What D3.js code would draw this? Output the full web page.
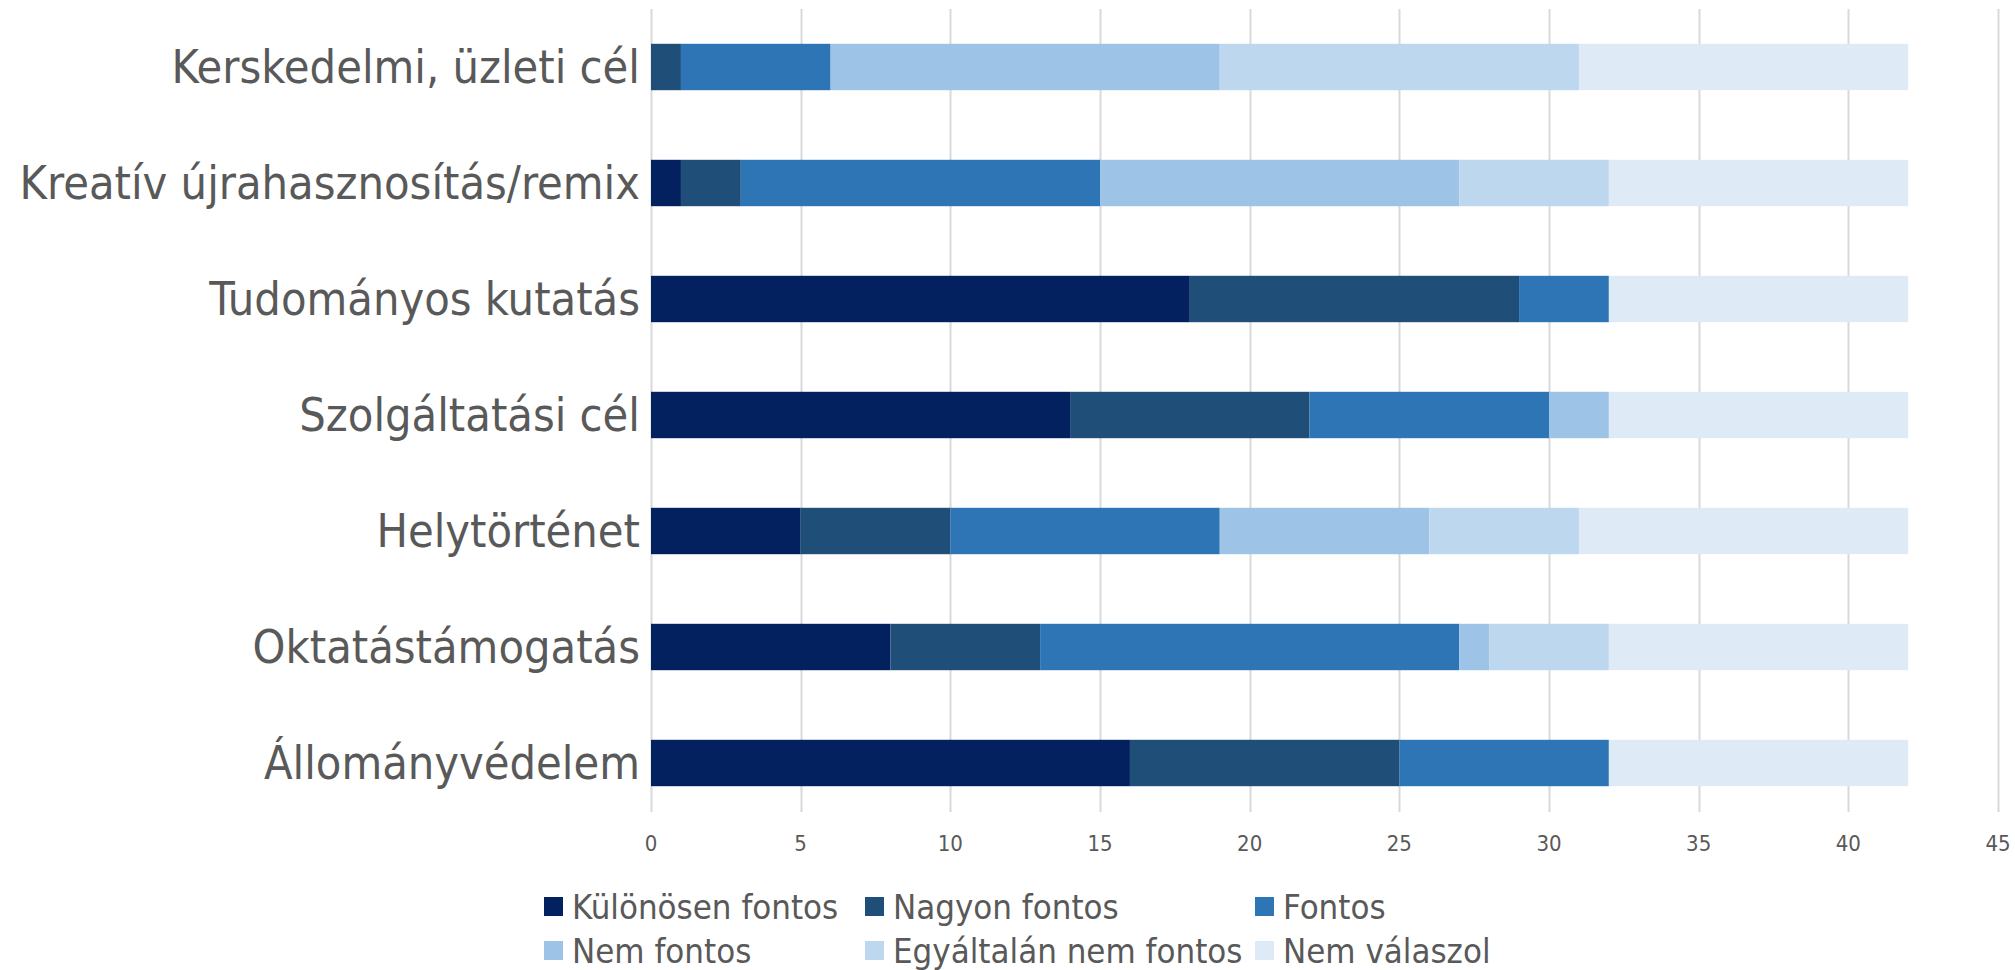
<!DOCTYPE html>
<html>
<head>
<meta charset="utf-8">
<script src="https://cdn.jsdelivr.net/npm/d3@7"></script>
<style>
  body { margin: 0; background: #fff; }
  svg text { font-family: "DejaVu Sans Condensed", "DejaVu Sans", sans-serif; font-stretch: condensed; fill: #595959; }
</style>
</head>
<body>
<div id="chart"></div>
<script>
// categories, top to bottom
var categories = ["Kerskedelmi, üzleti cél", "Kreatív újrahasznosítás/remix", "Tudományos kutatás",
    "Szolgáltatási cél", "Helytörténet", "Oktatástámogatás", "Állományvédelem"];

var seriesNames = ["Különösen fontos", "Nagyon fontos", "Fontos", "Nem fontos", "Egyáltalán nem fontos", "Nem válaszol"];
var seriesColors = ["#03215f", "#1f4e79", "#2e75b6", "#9dc3e6", "#bdd7ee", "#deebf7"];

// values per series, same order as categories
var kulonosenFontos = [0, 1, 18, 14, 5, 8, 16];
var nagyonFontos    = [1, 2, 11, 8, 5, 5, 9];
var fontos          = [5, 12, 3, 8, 9, 14, 7];
var nemFontos       = [13, 12, 0, 2, 7, 1, 0];
var egyaltalanNem   = [12, 5, 0, 0, 5, 4, 0];
var nemValaszol     = [11, 10, 10, 10, 11, 10, 10];

var xTicks = [0, 5, 10, 15, 20, 25, 30, 35, 40, 45];

var width = 2015, height = 970;
var plotLeft = 651, plotRight = 1998, plotTop = 9, plotBottom = 812;

var values = [kulonosenFontos, nagyonFontos, fontos, nemFontos, egyaltalanNem, nemValaszol];
var rows = categories.map(function(c, i) {
    var r = { cat: c };
    seriesNames.forEach(function(s, j) { r[s] = values[j][i]; });
    return r;
});
var stacked = d3.stack().keys(seriesNames)(rows);

var x = d3.scaleLinear().domain([0, 45]).range([plotLeft, plotRight]);
var y = d3.scaleBand().domain(categories).range([plotTop, plotTop + 812]).paddingInner(0.6).paddingOuter(0.3);

var svg = d3.select("#chart").append("svg")
    .attr("width", width)
    .attr("height", height);

// gridlines
svg.append("g").selectAll("line")
    .data(xTicks)
    .enter().append("line")
    .attr("x1", function(d) { return Math.round(x(d)) + 0.5; })
    .attr("x2", function(d) { return Math.round(x(d)) + 0.5; })
    .attr("y1", plotTop)
    .attr("y2", plotBottom)
    .attr("stroke", "#d9d9d9")
    .attr("stroke-width", 2);

// bars
svg.append("g").selectAll("g")
    .data(stacked)
    .enter().append("g")
    .attr("fill", function(d, i) { return seriesColors[i]; })
    .selectAll("rect")
    .data(function(d) { return d; })
    .enter().append("rect")
    .attr("x", function(d) { return x(d[0]); })
    .attr("width", function(d) { return x(d[1]) - x(d[0]); })
    .attr("y", function(d) { return y(d.data.cat); })
    .attr("height", y.bandwidth());

// x tick labels
svg.append("g").selectAll("text")
    .data(xTicks)
    .enter().append("text")
    .attr("x", function(d) { return x(d); })
    .attr("y", 843)
    .attr("dy", "0.35em")
    .attr("text-anchor", "middle")
    .style("font-size", "22px")
    .text(function(d) { return d; });

// category labels
svg.append("g").selectAll("text")
    .data(categories)
    .enter().append("text")
    .attr("x", plotLeft - 11)
    .attr("y", function(d) { return y(d) + y.bandwidth() / 2; })
    .attr("dy", "0.35em")
    .attr("text-anchor", "end")
    .style("font-size", "46.5px")
    .text(function(d) { return d; });

// legend
var legendCols = [544, 865, 1255];
var legendRows = [907, 951];
var legend = svg.append("g").selectAll("g")
    .data(seriesNames)
    .enter().append("g")
    .attr("transform", function(d, i) {
        return "translate(" + legendCols[i % 3] + "," + legendRows[Math.floor(i / 3)] + ")";
    });
legend.append("rect")
    .attr("x", 0)
    .attr("y", -10)
    .attr("width", 19)
    .attr("height", 19)
    .attr("fill", function(d, i) { return seriesColors[i]; });
legend.append("text")
    .attr("x", 28)
    .attr("y", 0)
    .attr("dy", "0.35em")
    .style("font-size", "34.5px")
    .text(function(d) { return d; });
</script>
</body>
</html>
